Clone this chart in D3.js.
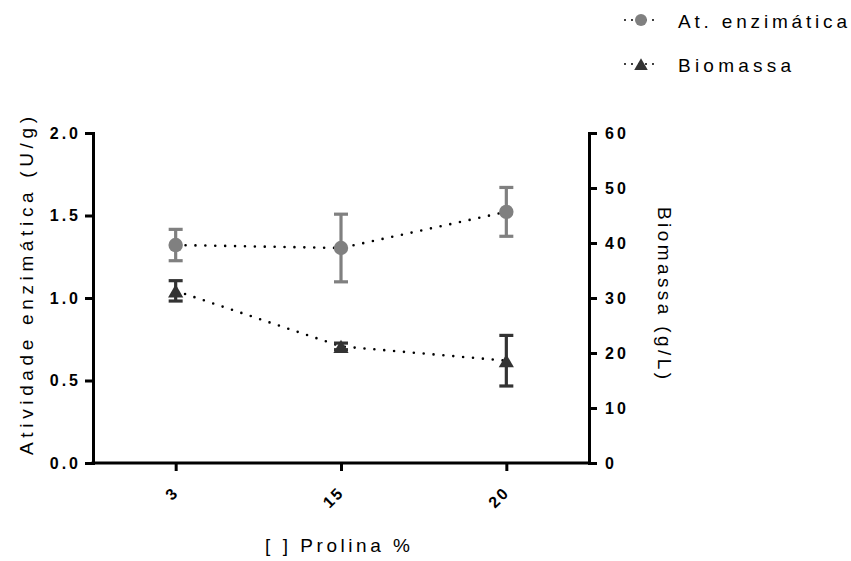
<!DOCTYPE html>
<html><head><meta charset="utf-8">
<script src="https://cdn.jsdelivr.net/npm/d3@7"></script>
<style>body{margin:0;background:#fff}svg{font-family:"Liberation Sans",Arial,sans-serif}</style>
</head><body>
<script>
const categories = ["3", "15", "20"];
const enzMean = [1.321, 1.303, 1.522];
const enzErr = [0.095, 0.205, 0.148];
const bioMean = [31.3, 21.2, 18.6];
const bioErr = [1.85, 0.6, 4.6];
const leftTicks = [0, 0.5, 1.0, 1.5, 2.0];
const rightTicks = [0, 10, 20, 30, 40, 50, 60];

const W = 851, H = 561;
const L = 93, R = 589, T = 133, B = 463;
const svg = d3.select("body").append("svg").attr("width", W).attr("height", H);

const x = d3.scalePoint().domain(categories).range([L, R]).padding(0.5);
const yL = d3.scaleLinear().domain([0, 2]).range([B, T]);
const yR = d3.scaleLinear().domain([0, 60]).range([B, T]);

function styleAxis(g) {
  g.selectAll("path.domain").attr("stroke", "#000").attr("stroke-width", 3);
  g.selectAll(".tick line").attr("stroke", "#000").attr("stroke-width", 3);
  g.selectAll(".tick text").attr("font-weight", "bold").attr("font-size", 16)
    .attr("letter-spacing", 3).attr("fill", "#000")
    .attr("font-family", "Liberation Sans, Arial, sans-serif");
}

const gl = svg.append("g").attr("transform", `translate(${L},0)`)
  .call(d3.axisLeft(yL).tickValues(leftTicks).tickFormat(d3.format(".1f")).tickSizeOuter(0).tickSize(8).tickPadding(7));
styleAxis(gl);
gl.selectAll(".tick text").attr("dx", 3);
const gr = svg.append("g").attr("transform", `translate(${R},0)`)
  .call(d3.axisRight(yR).tickValues(rightTicks).tickSizeOuter(0).tickSize(8).tickPadding(8));
styleAxis(gr);
const gx = svg.append("g").attr("transform", `translate(0,${B})`)
  .call(d3.axisBottom(x).tickSizeOuter(0).tickSize(8).tickPadding(0));
styleAxis(gx);
gx.select("path.domain").attr("d", `M${L-1.5},0H${R+1.5}`);
gx.selectAll(".tick text").attr("text-anchor", "end").attr("dy", 0).attr("y", 0)
  .attr("letter-spacing", 2)
  .attr("transform", "translate(3.5,30.5) rotate(-45)");

// axis titles
function title(t, len) {
  t.attr("text-anchor", "middle").attr("font-size", 19).attr("fill", "#000")
   .attr("textLength", len).attr("lengthAdjust", "spacing");
}
svg.append("text").attr("transform", `translate(33,286) rotate(-90)`)
  .text("Atividade enzimática (U/g)").call(title, 338);
svg.append("text").attr("transform", `translate(658,293) rotate(90)`)
  .text("Biomassa (g/L)").call(title, 172);
svg.append("text").attr("x", 337.5).attr("y", 552)
  .text("[ ] Prolina %").call(title, 145);

// lines
const enzData = categories.map((c, i) => ({c, m: enzMean[i], e: enzErr[i]}));
const bioData = categories.map((c, i) => ({c, m: bioMean[i], e: bioErr[i]}));
const dotted = sel => sel.attr("fill", "none").attr("stroke", "#000").attr("stroke-width", 2.6)
  .attr("stroke-linecap", "round").attr("stroke-dasharray", "0 9.9");
svg.append("path").datum(enzData).attr("d", d3.line().x(d => x(d.c)).y(d => yL(d.m))).call(dotted);
svg.append("path").datum(bioData).attr("d", d3.line().x(d => x(d.c)).y(d => yR(d.m))).call(dotted);

function errBars(data, y, color) {
  const g = svg.append("g").attr("stroke", color).attr("stroke-width", 3.2).attr("fill", "none");
  data.forEach(d => {
    const cx = x(d.c);
    g.append("line").attr("x1", cx).attr("x2", cx).attr("y1", y(d.m - d.e)).attr("y2", y(d.m + d.e));
    [d.m - d.e, d.m + d.e].forEach(v => g.append("line").attr("x1", cx - 7).attr("x2", cx + 7).attr("y1", y(v)).attr("y2", y(v)));
  });
}
errBars(enzData, yL, "#808080");
errBars(bioData, yR, "#333333");

svg.append("g").selectAll("circle").data(enzData).join("circle")
  .attr("cx", d => x(d.c)).attr("cy", d => yL(d.m)).attr("r", 7.2).attr("fill", "#808080");
const tri = d3.symbol().type(d3.symbolTriangle).size(100);
svg.append("g").selectAll("path").data(bioData).join("path")
  .attr("d", tri).attr("transform", d => `translate(${x(d.c)},${yR(d.m) + 2.2})`).attr("fill", "#333333");

// legend
const lg = svg.append("g");
[[20, "circle", "At. enzimática", 169], [64, "tri", "Biomassa", 113]].forEach(([yy, s, label, len]) => {
  lg.append("line").attr("x1", 625).attr("x2", 654).attr("y1", yy).attr("y2", yy).call(dotted)
    .attr("stroke-dasharray", "0 7").attr("stroke-width", 2);
  if (s === "circle") lg.append("circle").attr("cx", 641).attr("cy", yy).attr("r", 6).attr("fill", "#808080");
  else lg.append("path").attr("d", d3.symbol().type(d3.symbolTriangle).size(80)).attr("transform", `translate(641,${yy + 2})`).attr("fill", "#333333");
  lg.append("text").attr("x", 678).attr("y", yy + 7.5).attr("font-size", 19)
    .attr("textLength", len).attr("lengthAdjust", "spacing").text(label);
});
</script>
</body></html>
